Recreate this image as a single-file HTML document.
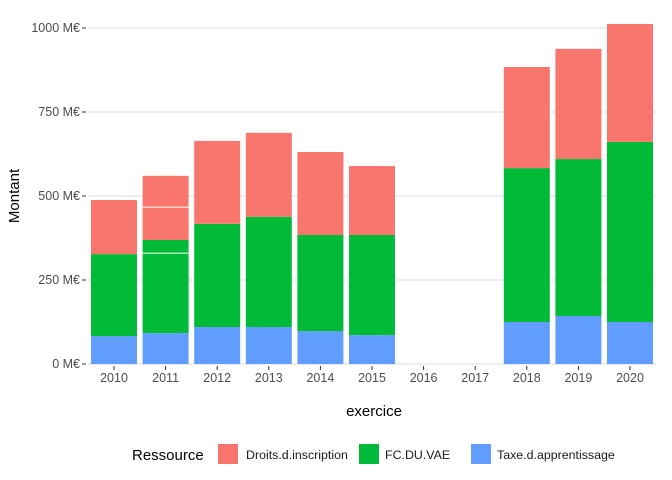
<!DOCTYPE html>
<html><head><meta charset="utf-8"><style>
body{margin:0;background:#fff}
svg{font-family:"Liberation Sans",sans-serif;display:block}
</style></head><body>
<svg id="chart" width="672" height="480">
<g id="grid"></g>
<g id="bars"></g>
<g id="axes"></g>
<text x="374" y="416" text-anchor="middle" font-size="15" fill="#000">exercice</text>
<text transform="translate(19,196) rotate(-90)" text-anchor="middle" font-size="15" fill="#000">Montant</text>
<g>
<text x="132" y="460" font-size="15" fill="#000">Ressource</text>
<g><rect x="218" y="444" width="20" height="20" fill="#F8766D"/><text x="246" y="459" font-size="12.4" fill="#1a1a1a">Droits.d.inscription</text></g>
<g><rect x="359" y="444" width="20" height="20" fill="#00BA38"/><text x="385" y="459" font-size="12.4" fill="#1a1a1a">FC.DU.VAE</text></g>
<g><rect x="471" y="444" width="20" height="20" fill="#619CFF"/><text x="497" y="459" font-size="12.4" fill="#1a1a1a">Taxe.d.apprentissage</text></g>
</g>
</svg>
<script>
const years=["2010","2011","2012","2013","2014","2015","2016","2017","2018","2019","2020"];
const taxe=[83,92,110,110,98,86,0,0,125,143,125];
const fc=[244,238,307,328,286,298,0,0,458,467,536];
const fcExtra=[0,39,0,0,0,0,0,0,0,0,0];
const droits=[161,98,247,250,247,205,0,0,301,328,351];
const droitsExtra=[0,93,0,0,0,0,0,0,0,0,0];
const yTicks=[0,250,500,750,1000];
const yTickLabels=["0 M€","250 M€","500 M€","750 M€","1000 M€"];
const NS="http://www.w3.org/2000/svg";
const y=v=>364-v*0.336;
const x=i=>114+i*51.6;
const bw=46;
function mk(t,a,p){const e=document.createElementNS(NS,t);for(const k in a)e.setAttribute(k,a[k]);p.appendChild(e);return e;}
const grid=document.getElementById('grid'),bars=document.getElementById('bars'),axes=document.getElementById('axes');
yTicks.forEach((t,i)=>{
 const l=mk('line',{x1:88,x2:656,y1:y(t),y2:y(t),stroke:'#dedede','stroke-width':1},grid);
 
 
 const tk=mk('line',{x1:82,x2:86,y1:y(t),y2:y(t),stroke:'#333','stroke-width':1},axes);
 
 
 const tx=mk('text',{x:80,y:y(t)+4,'text-anchor':'end','font-size':12.5,fill:'#4d4d4d'},axes);
 tx.textContent=yTickLabels[i];
 
 
});
years.forEach((yr,i)=>{
 const segs=[[taxe[i],'#619CFF'],[fc[i],'#00BA38'],[fcExtra[i],'#00BA38'],[droits[i],'#F8766D'],[droitsExtra[i],'#F8766D']];
 let base=0;
 segs.forEach(([v,c],k)=>{
  if(v>0){
   const r=mk('rect',{x:x(i)-bw/2,y:y(base+v),width:bw,height:y(base)-y(base+v),fill:c},bars);
   
   
   if(k===2||k===4){mk('line',{x1:x(i)-bw/2,x2:x(i)+bw/2,y1:y(base),y2:y(base),stroke:'#fff','stroke-width':1},bars);}
  }
  base+=v;
 });
 const tk=mk('line',{x1:x(i),x2:x(i),y1:366,y2:370,stroke:'#333','stroke-width':1},axes);
 
 
 const tx=mk('text',{x:x(i),y:382,'text-anchor':'middle','font-size':12.5,fill:'#4d4d4d'},axes);
 tx.textContent=yr;
 
 
});
</script>
</body></html>
